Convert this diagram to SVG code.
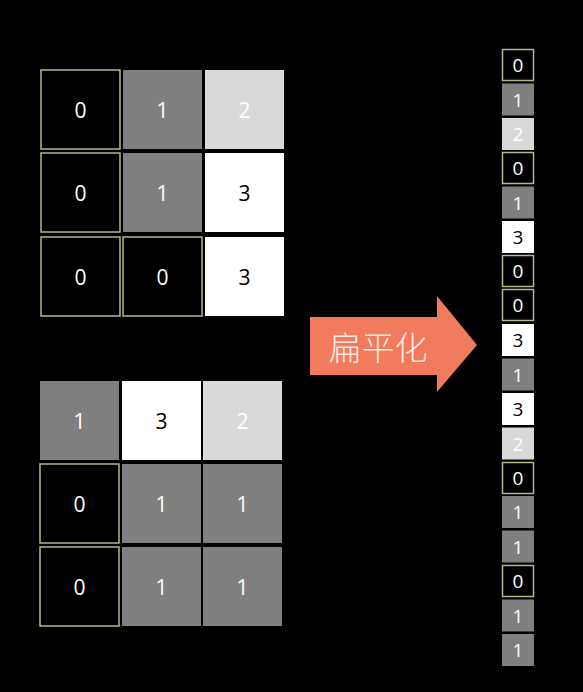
<svg xmlns="http://www.w3.org/2000/svg" width="583" height="692" viewBox="0 0 583 692">
<style>
.k{fill:#000;stroke:#b3b78a;stroke-width:1.5}
.g{fill:#7f7f7f}
.l{fill:#d9d9d9}
.w{fill:#fff}
text{font-family:"Open Sans","Liberation Sans",sans-serif;text-anchor:middle;dominant-baseline:central}
.b text{font-size:21px}
.s text{font-size:19px}
.tw{fill:#fff}
.tb{fill:#000}
</style>
<rect width="583" height="692" fill="#000"/>
<g id="grid1" class="b">
<g id="g1-00"><rect class="k" x="41" y="70" width="79" height="79"/><text class="tw" x="80.5" y="109.5">0</text></g>
<g id="g1-01"><rect class="g" x="123" y="70" width="79" height="79"/><text class="tw" x="162.5" y="109.5">1</text></g>
<g id="g1-02"><rect class="l" x="205" y="70" width="79" height="79"/><text class="tw" x="244.5" y="109.5">2</text></g>
<g id="g1-10"><rect class="k" x="41" y="153" width="79" height="79"/><text class="tw" x="80.5" y="192.5">0</text></g>
<g id="g1-11"><rect class="g" x="123" y="153" width="79" height="79"/><text class="tw" x="162.5" y="192.5">1</text></g>
<g id="g1-12"><rect class="w" x="205" y="153" width="79" height="79"/><text class="tb" x="244.5" y="192.5">3</text></g>
<g id="g1-20"><rect class="k" x="41" y="237" width="79" height="79"/><text class="tw" x="80.5" y="276.5">0</text></g>
<g id="g1-21"><rect class="k" x="123" y="237" width="79" height="79"/><text class="tw" x="162.5" y="276.5">0</text></g>
<g id="g1-22"><rect class="w" x="205" y="237" width="79" height="79"/><text class="tb" x="244.5" y="276.5">3</text></g>
</g>
<g id="grid2" class="b">
<g id="g2-00"><rect class="g" x="40" y="381" width="79" height="79"/><text class="tw" x="79.5" y="420.5">1</text></g>
<g id="g2-01"><rect class="w" x="122" y="381" width="79" height="79"/><text class="tb" x="161.5" y="420.5">3</text></g>
<g id="g2-02"><rect class="l" x="203" y="381" width="79" height="79"/><text class="tw" x="242.5" y="420.5">2</text></g>
<g id="g2-10"><rect class="k" x="40" y="464" width="79" height="79"/><text class="tw" x="79.5" y="503.5">0</text></g>
<g id="g2-11"><rect class="g" x="122" y="464" width="79" height="79"/><text class="tw" x="161.5" y="503.5">1</text></g>
<g id="g2-12"><rect class="g" x="203" y="464" width="79" height="79"/><text class="tw" x="242.5" y="503.5">1</text></g>
<g id="g2-20"><rect class="k" x="40" y="547" width="79" height="79"/><text class="tw" x="79.5" y="586.5">0</text></g>
<g id="g2-21"><rect class="g" x="122" y="547" width="79" height="79"/><text class="tw" x="161.5" y="586.5">1</text></g>
<g id="g2-22"><rect class="g" x="203" y="547" width="79" height="79"/><text class="tw" x="242.5" y="586.5">1</text></g>
</g>
<g id="arrow">
<polygon points="310,317 437,317 437,296 477,345 437,392 437,375 310,375" fill="#f27b5e"/>
<text x="378" y="346" font-size="33" fill="#fdeae2" style="font-family:'Noto Sans CJK SC',sans-serif;font-weight:300">扁平化</text>
</g>
<g id="flat" class="s">
<g id="f0"><rect class="k" x="502.5" y="49.5" width="31" height="31"/><text class="tw" x="518" y="65">0</text></g>
<g id="f1"><rect class="g" x="502" y="83.5" width="32" height="32"/><text class="tw" x="518" y="99.5">1</text></g>
<g id="f2"><rect class="l" x="502" y="118" width="32" height="32"/><text class="tw" x="518" y="134">2</text></g>
<g id="f3"><rect class="k" x="502.5" y="152.5" width="31" height="31"/><text class="tw" x="518" y="168">0</text></g>
<g id="f4"><rect class="g" x="502" y="186.5" width="32" height="32"/><text class="tw" x="518" y="202.5">1</text></g>
<g id="f5"><rect class="w" x="502" y="221" width="32" height="32"/><text class="tb" x="518" y="237">3</text></g>
<g id="f6"><rect class="k" x="502.5" y="255.5" width="31" height="31"/><text class="tw" x="518" y="271">0</text></g>
<g id="f7"><rect class="k" x="502.5" y="289.5" width="31" height="31"/><text class="tw" x="518" y="305">0</text></g>
<g id="f8"><rect class="w" x="502" y="324" width="32" height="32"/><text class="tb" x="518" y="340">3</text></g>
<g id="f9"><rect class="g" x="502" y="358.5" width="32" height="32"/><text class="tw" x="518" y="374.5">1</text></g>
<g id="f10"><rect class="w" x="502" y="393" width="32" height="32"/><text class="tb" x="518" y="409">3</text></g>
<g id="f11"><rect class="l" x="502" y="427.5" width="32" height="32"/><text class="tw" x="518" y="443.5">2</text></g>
<g id="f12"><rect class="k" x="502.5" y="462.5" width="31" height="31"/><text class="tw" x="518" y="478">0</text></g>
<g id="f13"><rect class="g" x="502" y="496" width="32" height="32"/><text class="tw" x="518" y="512">1</text></g>
<g id="f14"><rect class="g" x="502" y="530.5" width="32" height="32"/><text class="tw" x="518" y="546.5">1</text></g>
<g id="f15"><rect class="k" x="502.5" y="565.5" width="31" height="31"/><text class="tw" x="518" y="581">0</text></g>
<g id="f16"><rect class="g" x="502" y="599.5" width="32" height="32"/><text class="tw" x="518" y="615.5">1</text></g>
<g id="f17"><rect class="g" x="502" y="634" width="32" height="32"/><text class="tw" x="518" y="650">1</text></g>
</g>
</svg>
